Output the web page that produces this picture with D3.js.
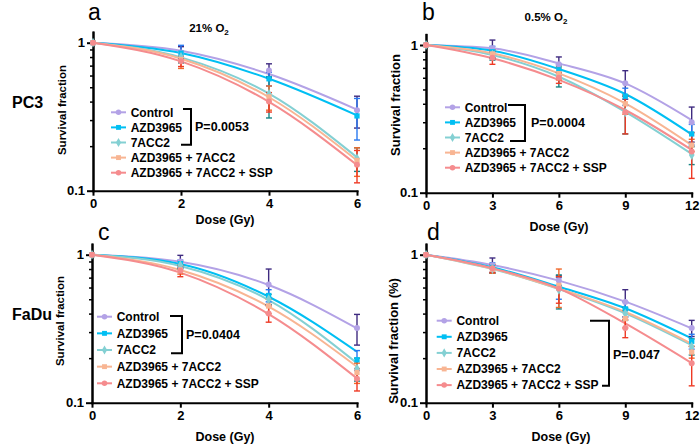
<!DOCTYPE html>
<html>
<head>
<meta charset="utf-8">
<script src="https://cdnjs.cloudflare.com/ajax/libs/d3/7.8.5/d3.min.js"></script>
<style>
body{margin:0;background:#fff;}
svg{display:block;font-family:"Liberation Sans",Arial,sans-serif;}
.axis path,.axis line{stroke:#000;stroke-width:2;}
.axis text{font-size:13px;font-weight:bold;fill:#000;}
.minor line{stroke-width:1.5;}
</style>
</head>
<body>
<div id="canvas"></div>
<script>
//groups and colours
var groups = ['Control','AZD3965','7ACC2','AZD3965 + 7ACC2','AZD3965 + 7ACC2 + SSP'];
var lineColors = ['#b3a2e6','#00bff3','#84d0d3','#f8b593','#f58c8e'];
var errColors = ['#3f2b80','#2a79f0','#168585','#f0692b','#ee3a25'];
var shapes = [d3.symbolCircle, d3.symbolSquare, d3.symbolDiamond, d3.symbolSquare, d3.symbolCircle];

var majorTicks = [0.1, 1];
var minorTicks = [0.2,0.3,0.4,0.5,0.6,0.7,0.8,0.9];

//a: PC3, 21% O2
var doseA = [0,2,4,6];
var fitA = [[1,.883,.614,.353],[1,.852,.571,.323],[1,.796,.453,.168],[1,.78,.428,.16],[1,.748,.398,.149]];
var meanA = [[1,.86,.65,.35],[1,.85,.57,.32],[1,.80,.45,.165],[1,.77,.43,.16],[1,.75,.40,.15]];
var sdA = [[0,.08,.07,.085],[0,.11,.06,.10],[0,.07,.14,.03],[0,.10,.08,.035],[0,.06,.06,.037]];

//b: PC3, 0.5% O2
var doseB = [0,3,6,9,12];
var fitB = [[1,.949,.751,.55,.31],[1,.915,.688,.466,.248],[1,.856,.61,.353,.183],[1,.878,.643,.403,.21],[1,.813,.58,.363,.195]];
var meanB = [[1,.95,.74,.55,.30],[1,.90,.68,.45,.25],[1,.86,.62,.35,.18],[1,.87,.64,.40,.21],[1,.82,.60,.35,.19]];
var sdB = [[0,.13,.09,.12,.08],[0,.08,.06,.06,.04],[0,.07,.10,.10,.025],[0,.06,.06,.06,.02],[0,.08,.05,.10,.065]];

//c: FaDu, 21% O2
var doseC = [0,2,4,6];
var fitC = [[1,.897,.624,.318],[1,.865,.52,.221],[1,.839,.494,.185],[1,.788,.446,.175],[1,.757,.397,.146]];
var meanC = [[1,.90,.63,.32],[1,.87,.53,.195],[1,.85,.50,.17],[1,.79,.45,.16],[1,.78,.40,.145]];
var sdC = [[0,.09,.17,.075],[0,.05,.05,.03],[0,.05,.04,.03],[0,.05,.05,.025],[0,.07,.05,.025]];

//d: FaDu, 0.5% O2
var doseD = [0,3,6,9,12];
var fitD = [[1,.852,.668,.482,.318],[1,.822,.608,.435,.272],[1,.80,.586,.402,.245],[1,.805,.59,.41,.25],[1,.81,.59,.343,.185]];
var meanD = [[1,.85,.67,.48,.32],[1,.82,.60,.43,.26],[1,.80,.58,.40,.24],[1,.80,.62,.37,.22],[1,.81,.59,.32,.185]];
var sdD = [[0,.10,.05,.10,.04],[0,.06,.10,.05,.03],[0,.05,.15,.04,.03],[0,.05,.18,.05,.02],[0,.05,.12,.045,.055]];

var panels = [
  {dose:doseA, fit:fitA, mean:meanA, sd:sdA, letter:'a', title:'21% O', ylab:'Survival fraction', p:'P=0.0053',
   x:[93,357], y1:42.7, y01:190.7, lt:[88,20], tt:[209,32], yl:[66,110,11.5], xl:[225,224],
   leg:[111,112.3,15.1], br:{x:191,t:109,b:144.7,tf:183,bf:181}, pt:[195,131.3]},
  {dose:doseB, fit:fitB, mean:meanB, sd:sdB, letter:'b', title:'0.5% O', ylab:'Survival fraction', p:'P=0.0004',
   x:[426,691.7], y1:45, y01:192.7, lt:[422,20], tt:[546,21], yl:[399.5,105,13], xl:[559,231],
   leg:[445,107.3,15.1], br:{x:525,t:105,b:141,tf:508,bf:510}, pt:[531,127]},
  {dose:doseC, fit:fitC, mean:meanC, sd:sdC, letter:'c', title:null, ylab:'Survival fraction', p:'P=0.0404',
   x:[92,357], y1:254.7, y01:402.7, lt:[98,240], tt:null, yl:[64,321,11.5], xl:[225,441],
   leg:[97,316.7,16.65], br:{x:182,t:316,b:353.3,tf:170,bf:171}, pt:[186,338.6]},
  {dose:doseD, fit:fitD, mean:meanD, sd:sdD, letter:'d', title:null, ylab:'Survival fraction (%)', p:'P=0.047',
   x:[426,691.7], y1:254.7, y01:402.7, lt:[427,240], tt:null, yl:[397.5,341,13], xl:[561,441],
   leg:[436.7,320.7,16.1], br:{x:609,t:320.7,b:385.7,tf:590,bf:602}, pt:[613,358.6]}
];

var svg = d3.select('#canvas')
    .append('svg')
    .attr('width',700)
    .attr('height',445);

//row labels
svg.append('text').attr('x',12).attr('y',108).attr('font-size',16).attr('font-weight','bold').text('PC3');
svg.append('text').attr('x',12).attr('y',320).attr('font-size',16).attr('font-weight','bold').text('FaDu');

panels.forEach(drawPanel);

function drawPanel(p){
    var top = p.y1 - (p.y01 - p.y1)*Math.log10(1.18);
    var scaleX = d3.scaleLinear()
        .domain([0, d3.max(p.dose)])
        .range(p.x);
    var scaleY = d3.scaleLog()
        .domain([0.1, 1.18])
        .range([p.y01, top]);

    var g = svg.append('g');

    //axes
    var axisY = d3.axisLeft(scaleY)
        .tickValues(majorTicks)
        .tickFormat(d3.format('~g'))
        .tickSize(6)
        .tickPadding(2)
        .tickSizeOuter(0);
    g.append('g').attr('class','axis')
        .attr('transform','translate('+p.x[0]+',0)')
        .call(axisY);
    g.append('g').attr('class','axis minor')
        .attr('transform','translate('+p.x[0]+',0)')
        .call(d3.axisLeft(scaleY).tickValues(minorTicks).tickFormat('').tickSize(3).tickSizeOuter(0));

    var axisX = d3.axisBottom(scaleX)
        .tickValues(p.dose)
        .tickFormat(d3.format('d'))
        .tickSize(5)
        .tickPadding(3)
        .tickSizeOuter(0);
    g.append('g').attr('class','axis')
        .attr('transform','translate(0,'+p.y01+')')
        .call(axisX);
    g.selectAll('.domain').attr('stroke-linecap','square');

    //texts
    g.append('text').attr('x',p.lt[0]).attr('y',p.lt[1]).attr('font-size',23).text(p.letter);
    if(p.title){
        var t = g.append('text').attr('x',p.tt[0]).attr('y',p.tt[1])
            .attr('text-anchor','middle').attr('font-size',11.5).attr('font-weight','bold');
        t.append('tspan').text(p.title);
        t.append('tspan').attr('font-size',8).attr('dy',3).text('2');
    }
    g.append('text')
        .attr('transform','translate('+p.yl[0]+','+p.yl[1]+') rotate(-90)')
        .attr('text-anchor','middle').attr('font-size',p.yl[2]).attr('font-weight','bold')
        .text(p.ylab);
    g.append('text').attr('x',p.xl[0]).attr('y',p.xl[1])
        .attr('text-anchor','middle').attr('font-size',12.5).attr('font-weight','bold')
        .text('Dose (Gy)');

    //fitted curves
    var line = d3.line()
        .x(function(d){ return scaleX(d[0]); })
        .y(function(d){ return scaleY(d[1]); })
        .curve(d3.curveMonotoneX);
    groups.forEach(function(name,i){
        g.append('path')
            .datum(p.dose.map(function(d,j){ return [d, p.fit[i][j]]; }))
            .attr('d',line)
            .attr('fill','none')
            .attr('stroke',lineColors[i])
            .attr('stroke-width',2);
    });

    //error bars
    groups.forEach(function(name,i){
        p.dose.forEach(function(d,j){
            var s = p.sd[i][j];
            if(!s) return;
            var cx = scaleX(d),
                y0 = scaleY(p.mean[i][j]-s),
                y1 = scaleY(p.mean[i][j]+s);
            var eb = g.append('g').attr('stroke',errColors[i]).attr('stroke-width',1.4);
            eb.append('line').attr('x1',cx).attr('x2',cx).attr('y1',y0).attr('y2',y1);
            eb.append('line').attr('x1',cx-3).attr('x2',cx+3).attr('y1',y0).attr('y2',y0);
            eb.append('line').attr('x1',cx-3).attr('x2',cx+3).attr('y1',y1).attr('y2',y1);
        });
    });

    //markers
    groups.forEach(function(name,i){
        g.selectAll('.m'+i)
            .data(p.dose.map(function(d,j){ return [d, p.mean[i][j]]; }))
            .enter().append('path')
            .attr('transform',function(d){ return 'translate('+scaleX(d[0])+','+scaleY(d[1])+')'; })
            .attr('d',d3.symbol().type(shapes[i]).size(28))
            .attr('fill',lineColors[i]);
    });

    //legend
    var lx = p.leg[0];
    groups.forEach(function(name,i){
        var ly = p.leg[1] + i*p.leg[2];
        g.append('line').attr('x1',lx).attr('x2',lx+15).attr('y1',ly).attr('y2',ly)
            .attr('stroke',lineColors[i]).attr('stroke-width',2);
        g.append('path').attr('transform','translate('+(lx+7.5)+','+ly+')')
            .attr('d',d3.symbol().type(shapes[i]).size(24))
            .attr('fill',lineColors[i]);
        g.append('text').attr('x',lx+19.7).attr('y',ly+4.3)
            .attr('font-size',12).attr('font-weight','bold').text(name);
    });

    //significance bracket
    var b = p.br;
    g.append('path')
        .attr('d','M'+b.tf+','+b.t+'H'+b.x+'V'+b.b+'H'+b.bf)
        .attr('fill','none').attr('stroke','#000').attr('stroke-width',2);
    g.append('text').attr('x',p.pt[0]).attr('y',p.pt[1])
        .attr('font-size',12.5).attr('font-weight','bold').text(p.p);
}
</script>
</body>
</html>
